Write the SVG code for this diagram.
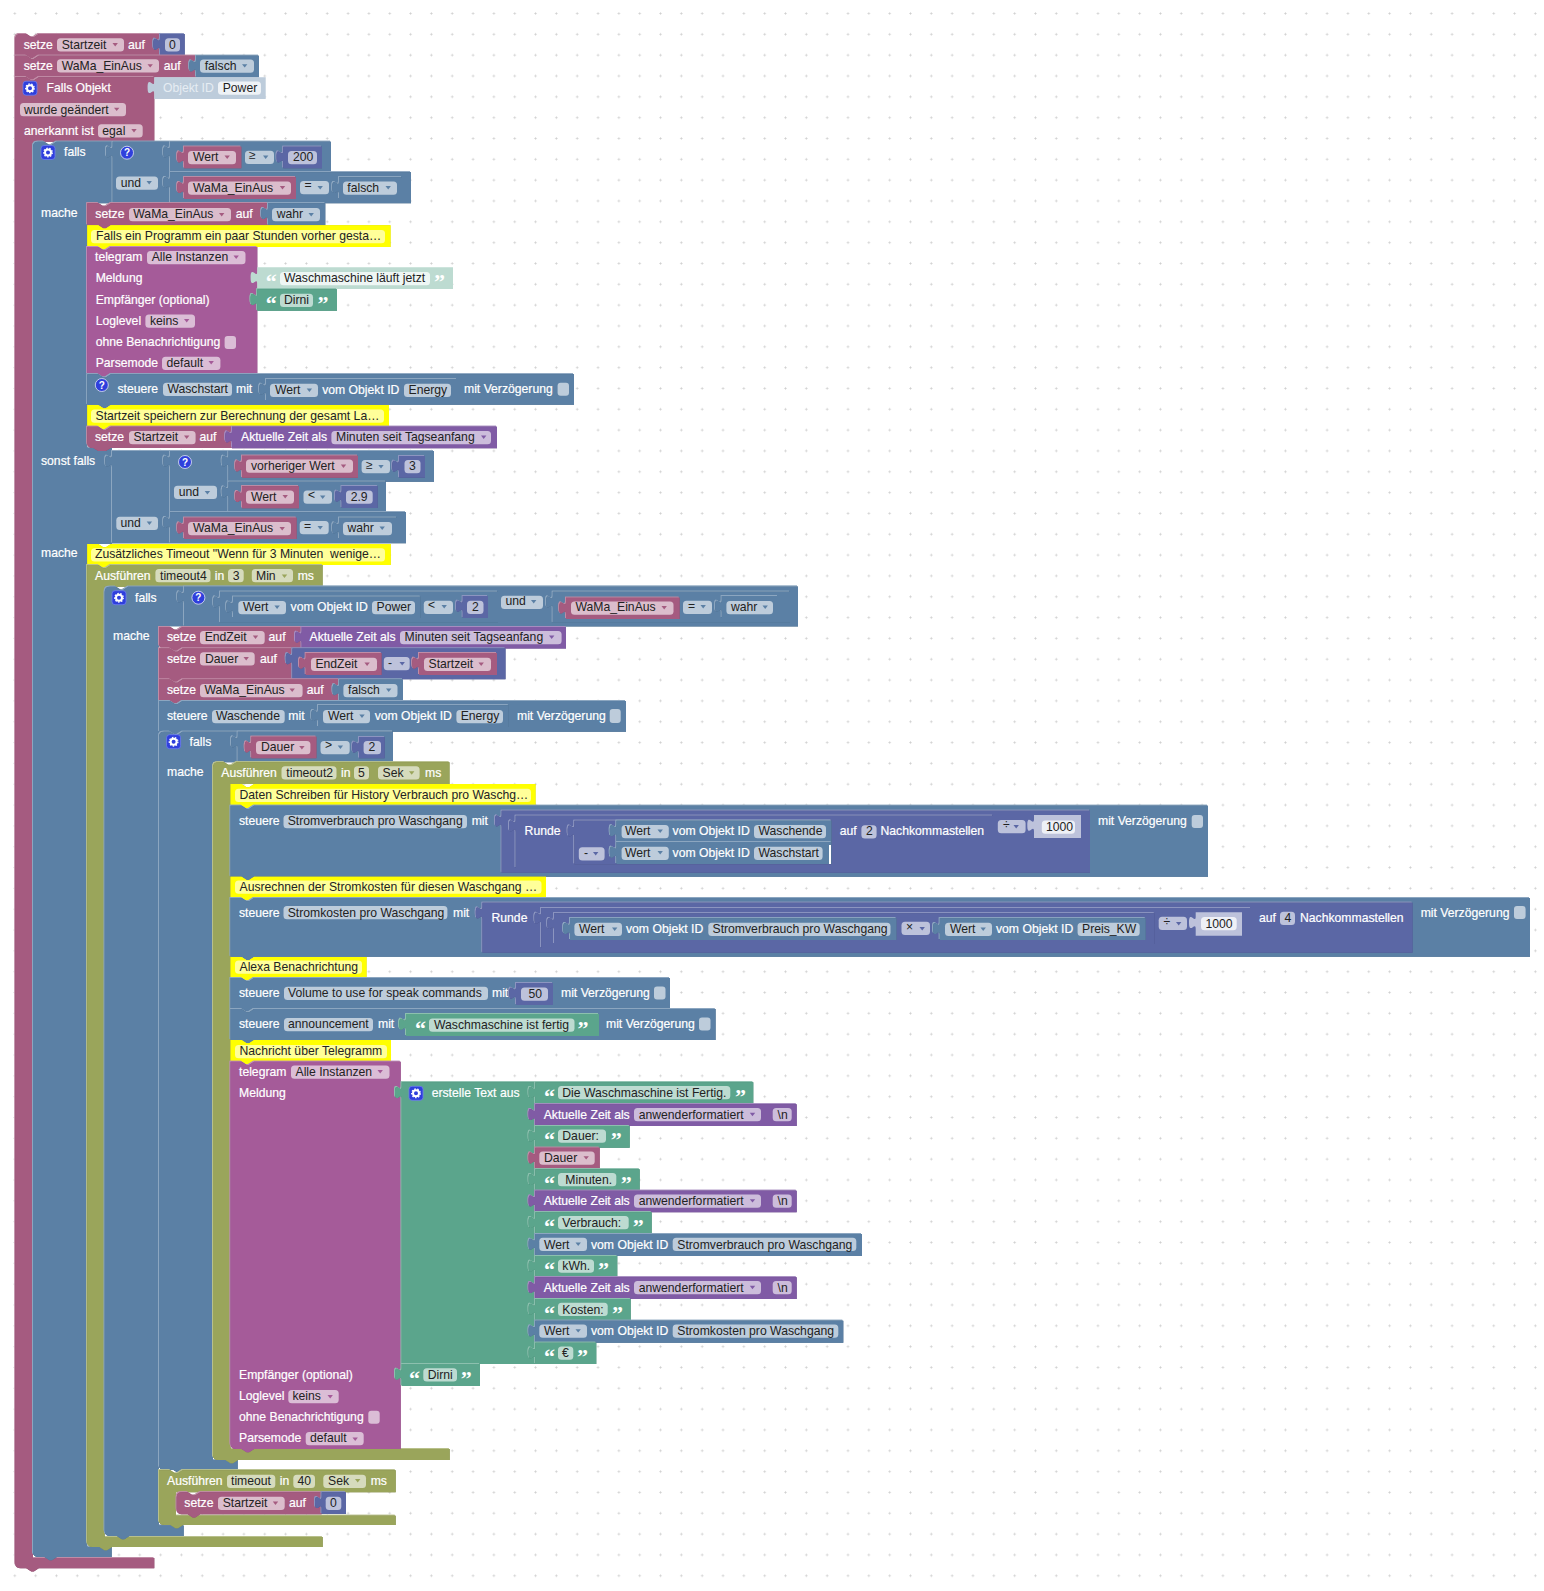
<svg xmlns="http://www.w3.org/2000/svg" width="1544" height="1591" viewBox="0 0 1544 1591">
<style>
text{font:12.2px "Liberation Sans",Arial,sans-serif;fill:#fff;stroke:#fff;stroke-width:.2px;white-space:pre}
text.d{fill:#222;stroke:none}
text.s{fill:#e6edf3;stroke:none}
text.q{font:bold 22px "Liberation Serif","Times New Roman",serif;fill:#fff;stroke:none;transform:translateY(.5px)}
text.h{font:bold 10px "Liberation Sans",Arial,sans-serif;fill:#fff;stroke:none;text-anchor:middle}
.f{height:13.3px;rx:3.5px;fill:#fff;fill-opacity:.6}
.w2{height:13.3px;rx:3.5px;fill:#fff;fill-opacity:.75}
.c{rx:3px;fill:#fff;fill-opacity:.6}
.P{fill:#a55b80;filter:drop-shadow(.8px .8px 0 #844966) drop-shadow(-.6px -.6px 0 #c08ca6)}
.B{fill:#5b80a5;filter:drop-shadow(.8px .8px 0 #496684) drop-shadow(-.6px -.6px 0 #8ca6c0)}
.M{fill:#5b67a5;filter:drop-shadow(.8px .8px 0 #495284) drop-shadow(-.6px -.6px 0 #8c95c0)}
.G{fill:#5ba58c;filter:drop-shadow(.8px .8px 0 #498470) drop-shadow(-.6px -.6px 0 #8cc0ae)}
.T{fill:#a55b99;filter:drop-shadow(.8px .8px 0 #84497a) drop-shadow(-.6px -.6px 0 #c08cb8)}
.O{fill:#9aa55b;filter:drop-shadow(.8px .8px 0 #7b8449) drop-shadow(-.6px -.6px 0 #b8c08c)}
.Z{fill:#805ba5;filter:drop-shadow(.8px .8px 0 #664984) drop-shadow(-.6px -.6px 0 #a68cc0)}
.Y{fill:#ff0;filter:drop-shadow(.8px .8px 0 #cc0)}
.SB{fill:#bdccdb}.SG{fill:#bddbd1}.SM{fill:#bdc2db}
.ap{fill:#a55b80}.ab{fill:#5b80a5}.am{fill:#5b67a5}.at{fill:#a55b99}.ao{fill:#9aa55b}.az{fill:#805ba5}
</style>
<defs>
<pattern id="grid" x="4.4" y="3.1" width="20.83" height="20.83" patternUnits="userSpaceOnUse"><path d="M10.41 9.2v2.4M9.2 10.41h2.4" stroke="#ccc" stroke-width=".8" fill="none"/></pattern>
<path id="a" d="M0 0h5.4l-2.7 3.4z"/>
<g id="gear"><rect x="-7" y="-7" width="14" height="14" rx="3" fill="#2f3fdc" stroke="#6f7df0" stroke-width=".8"/><circle r="3" fill="none" stroke="#fff" stroke-width="2"/><circle r="4.3" fill="none" stroke="#fff" stroke-width="1.3" stroke-dasharray="1.5 1.5"/></g>
<circle id="qm" r="6.5" fill="#2f3fdc" stroke="#dfe3f7" stroke-width=".8"/>
</defs>
<rect width="1544" height="1591" fill="#fff"/>
<rect width="1544" height="1591" fill="url(#grid)"/>
<g id="connectors"/>

<g id="setStart"><path class="P" d="M15.3 39.3q0-5.3 5.3-5.3h5.7l5 3.3h2.5l5-3.3H160V55.7H38.8l-5 3.3h-2.5l-5-3.3H15.3z"/><text x="23.7" y="49">setze</text><rect class="f" x="57" y="38.3" width="67"/><text class="d" x="61.7" y="49">Startzeit</text><use class="ap" href="#a" x="112.5" y="43"/><text x="128" y="49">auf</text></g>
<g id="num0"><path class="M" d="M160 34H184.7V55.6H160V50.5c0-8.3-6.7 6.7-6.7-6.2s6.7 2.1 6.7-6.2z"/><rect class="f" x="165" y="38.3" width="15"/><text class="d" x="169" y="49">0</text></g>

<g id="setWaMa"><path class="P" d="M15.3 55.7h11l5 3.3h2.5l5-3.3H196V77.3H38.8l-5 3.3h-2.5l-5-3.3H15.3z"/><text x="23.7" y="70">setze</text><rect class="f" x="57" y="59.3" width="102"/><text class="d" x="61.7" y="70">WaMa_EinAus</text><use class="ap" href="#a" x="147.5" y="64.2"/><text x="163.7" y="70">auf</text></g>
<g id="falsch0"><path class="B" d="M196 55.7H259V77.3H196V72.2c0-8.3-6.7 6.7-6.7-6.2s6.7 2.1 6.7-6.2z"/><rect class="f" x="200" y="59.5" width="54"/><text class="d" x="204.7" y="70">falsch</text><use class="ab" href="#a" x="242" y="64.2"/></g>

<g id="event"><path class="P" d="M15.3 77.3h11l5 3.3h2.5l5-3.3H154.3V141.7H33V1558H154.3V1568.3H38.8l-5 3.3h-2.5l-5-3.3H20.6q-5.3 0-5.3-5.3z"/><use href="#gear" x="30" y="88.2"/><text x="46.5" y="92">Falls Objekt</text><rect class="f" x="20" y="103" width="106"/><text class="d" x="24" y="114">wurde geändert</text><use class="ap" href="#a" x="114" y="107.7"/><text x="24" y="135">anerkannt ist</text><rect class="f" x="98" y="124.3" width="44.7"/><text class="d" x="102.3" y="135">egal</text><use class="ap" href="#a" x="131.3" y="129"/></g>
<g id="objId"><path class="SB" d="M154.3 77.3H265.7V99H154.3V93.8c0-8.3-6.7 6.7-6.7-6.2s6.7 2.1 6.7-6.2z"/><text class="s" x="163" y="92">Objekt ID</text><rect class="w2" x="218" y="81.5" width="43"/><text class="d" x="222.7" y="92">Power</text></g>

<g id="if1"><path class="B" d="M33 147q0-5.3 5.3-5.3h5.7l5 3.3h2.5l5-3.3H112.7V203.3H87.3V448H112V544H87.3V1547H111.7V1557H57l-5 3.3h-2.5l-5-3.3H38.3q-5.3 0-5.3-5.3z"/><use href="#gear" x="48" y="152.5"/><text x="64" y="156">falls</text><text x="41" y="217">mache</text><text x="41" y="465">sonst falls</text><text x="41" y="557">mache</text></g>
<g id="and1"><path class="B" d="M112.7 141.7H170V203.3H112.7V158.2c0-8.3-6.7 6.7-6.7-6.2s6.7 2.1 6.7-6.2z"/><use href="#qm" x="127" y="152.7"/><text class="h" x="127" y="156.3">?</text><rect class="f" x="116" y="176.5" width="42"/><text class="d" x="120.7" y="186.5">und</text><use class="ab" href="#a" x="146.5" y="181"/></g>
<g id="cmp1"><path class="B" d="M170 141.7H331V172.3H170V158.2c0-8.3-6.7 6.7-6.7-6.2s6.7 2.1 6.7-6.2z"/><rect class="f" x="245" y="150.7" width="29"/><text class="d" x="249" y="158.5">≥</text><use class="ab" href="#a" x="263" y="155.5"/></g>
<g id="v1"><path class="P" d="M184 146.7H241.3V168.3H184V163.2c0-8.3-6.7 6.7-6.7-6.2s6.7 2.1 6.7-6.2z"/><rect class="f" x="188" y="151" width="48"/><text class="d" x="193" y="161">Wert</text><use class="ap" href="#a" x="224.5" y="155.5"/></g>
<g id="v2"><path class="M" d="M283.3 146.7H322V168.3H283.3V163.2c0-8.3-6.7 6.7-6.7-6.2s6.7 2.1 6.7-6.2z"/><rect class="f" x="288" y="151" width="29"/><text class="d" x="293" y="161">200</text></g>
<g id="cmp2"><path class="B" d="M170 172.3H411V203.3H170V188.8c0-8.3-6.7 6.7-6.7-6.2s6.7 2.1 6.7-6.2z"/><rect class="f" x="300" y="181" width="29"/><text class="d" x="304.5" y="189">=</text><use class="ab" href="#a" x="317.5" y="186"/></g>
<g id="v3"><path class="P" d="M184 177.3H296V199H184V193.8c0-8.3-6.7 6.7-6.7-6.2s6.7 2.1 6.7-6.2z"/><rect class="f" x="188" y="181.5" width="103"/><text class="d" x="193" y="191.5">WaMa_EinAus</text><use class="ap" href="#a" x="279.8" y="186"/></g>
<g id="v4"><path class="B" d="M339 177.3H402V199H339V193.8c0-8.3-6.7 6.7-6.7-6.2s6.7 2.1 6.7-6.2z"/><rect class="f" x="343" y="181.5" width="54"/><text class="d" x="347.3" y="191.5">falsch</text><use class="ab" href="#a" x="385.5" y="186"/></g>

<g id="set3"><path class="P" d="M87.3 203.3h11l5 3.3h2.5l5-3.3H268V225.3H110.8l-5 3.3h-2.5l-5-3.3H87.3z"/><text x="95.3" y="218">setze</text><rect class="f" x="129" y="208" width="102"/><text class="d" x="133.3" y="218">WaMa_EinAus</text><use class="ap" href="#a" x="219" y="213"/><text x="235.7" y="218">auf</text></g>
<g id="wahr1"><path class="B" d="M268 203.3H325.3V225.3H268V219.8c0-8.3-6.7 6.7-6.7-6.2s6.7 2.1 6.7-6.2z"/><rect class="f" x="272" y="208" width="48"/><text class="d" x="276.7" y="218">wahr</text><use class="ab" href="#a" x="308.5" y="213"/></g>
<g id="cmt1"><path class="Y" d="M87.3 225.3h11l5 3.3h2.5l5-3.3H390.5V247H110.8l-5 3.3h-2.5l-5-3.3H87.3z"/><rect class="f" x="91" y="230" width="294"/><text class="d" x="96" y="240">Falls ein Programm ein paar Stunden vorher gesta…</text></g>
<g id="tg1"><path class="T" d="M87.3 247h11l5 3.3h2.5l5-3.3H257.3V374H110.8l-5 3.3h-2.5l-5-3.3H87.3z"/><text x="95" y="261">telegram</text><rect class="f" x="147" y="251" width="98.5"/><text class="d" x="151.7" y="261">Alle Instanzen</text><use class="at" href="#a" x="233.5" y="255.5"/><text x="95.7" y="281.5">Meldung</text><text x="95.7" y="304">Empfänger (optional)</text><text x="95.7" y="325">Loglevel</text><rect class="f" x="145.4" y="314.5" width="49.6"/><text class="d" x="150" y="325">keins</text><use class="at" href="#a" x="184" y="319"/><text x="95.7" y="346">ohne Benachrichtigung</text><rect class="c" x="224.6" y="336" width="11.4" height="13"/><text x="95.7" y="367">Parsemode</text><rect class="f" x="162" y="356.7" width="58.4"/><text class="d" x="166.5" y="367">default</text><use class="at" href="#a" x="208.5" y="361"/></g>
<g id="txt1"><path class="SG" d="M257.3 267.3H453V289H257.3V283.8c0-8.3-6.7 6.7-6.7-6.2s6.7 2.1 6.7-6.2z"/><text class="q" x="265.7" y="288.5">“</text><rect class="w2" x="280" y="272" width="150"/><text class="d" x="284" y="282">Waschmaschine läuft jetzt</text><text class="q" x="434" y="288.5">”</text></g>
<g id="txt2"><path class="G" d="M257.3 289.3H337V310.7H257.3V305.8c0-8.3-6.7 6.7-6.7-6.2s6.7 2.1 6.7-6.2z"/><text class="q" x="265.7" y="310">“</text><rect class="f" x="280" y="293.7" width="33"/><text class="d" x="284" y="304">Dirni</text><text class="q" x="317.5" y="310">”</text></g>
<g id="ctl1"><path class="B" d="M87.3 374.3h11l5 3.3h2.5l5-3.3H574V404.7H110.8l-5 3.3h-2.5l-5-3.3H87.3z"/><use href="#qm" x="101.8" y="385"/><text class="h" x="101.8" y="388.6">?</text><text x="117.5" y="393">steuere</text><rect class="f" x="163" y="382.7" width="69"/><text class="d" x="167.4" y="393">Waschstart</text><text x="236" y="393">mit</text><text x="464" y="393">mit Verzögerung</text><rect class="c" x="557.6" y="382.7" width="11.4" height="13"/></g>
<g id="st1"><path class="B" d="M266 379H457V401H266V395.5c0-8.3-6.7 6.7-6.7-6.2s6.7 2.1 6.7-6.2z"/><rect class="f" x="270" y="383.7" width="48"/><text class="d" x="275" y="394">Wert</text><use class="ab" href="#a" x="306.7" y="388.5"/><text x="322.2" y="394">vom Objekt ID</text><rect class="f" x="404" y="383.7" width="47"/><text class="d" x="408.5" y="394">Energy</text></g>
<g id="cmt2"><path class="Y" d="M87.3 405h11l5 3.3h2.5l5-3.3H389V426.7H110.8l-5 3.3h-2.5l-5-3.3H87.3z"/><rect class="f" x="91" y="409.5" width="293"/><text class="d" x="95.5" y="420">Startzeit speichern zur Berechnung der gesamt La…</text></g>
<g id="set4"><path class="P" d="M87.3 426.7h11l5 3.3h2.5l5-3.3H232V448H110.8l-5 3H98.3l-5-3H92.6q-5.3 0-5.3-5.3z"/><text x="95" y="441">setze</text><rect class="f" x="129" y="431" width="66.6"/><text class="d" x="133.5" y="441">Startzeit</text><use class="ap" href="#a" x="184" y="435.5"/><text x="199.4" y="441">auf</text></g>
<g id="time1"><path class="Z" d="M232 426.7H497V448.3H232V443.2c0-8.3-6.7 6.7-6.7-6.2s6.7 2.1 6.7-6.2z"/><text x="241" y="441">Aktuelle Zeit als</text><rect class="f" x="331.4" y="431" width="159.6"/><text class="d" x="336" y="441">Minuten seit Tagseanfang</text><use class="az" href="#a" x="481" y="435.5"/></g>

<g id="and2"><path class="B" d="M112 451H170V543.3H112V467.5c0-8.3-6.7 6.7-6.7-6.2s6.7 2.1 6.7-6.2z"/><rect class="f" x="116.3" y="516.7" width="41.7"/><text class="d" x="120.5" y="527">und</text><use class="ab" href="#a" x="146.7" y="521.5"/></g>
<g id="and3"><path class="B" d="M170 451H228.5V512.3H170V467.5c0-8.3-6.7 6.7-6.7-6.2s6.7 2.1 6.7-6.2z"/><use href="#qm" x="185" y="462"/><text class="h" x="185" y="465.6">?</text><rect class="f" x="174" y="485.7" width="43"/><text class="d" x="178.7" y="496">und</text><use class="ab" href="#a" x="204.7" y="491"/></g>
<g id="cmp3"><path class="B" d="M228.5 451H434V481.7H228.5V467.5c0-8.3-6.7 6.7-6.7-6.2s6.7 2.1 6.7-6.2z"/><rect class="f" x="361.6" y="460" width="28.4"/><text class="d" x="366" y="468.5">≥</text><use class="ab" href="#a" x="378.3" y="465"/></g>
<g id="v5"><path class="P" d="M242 455.7H358V477.7H242V472.2c0-8.3-6.7 6.7-6.7-6.2s6.7 2.1 6.7-6.2z"/><rect class="f" x="246" y="459.5" width="107"/><text class="d" x="251" y="469.5">vorheriger Wert</text><use class="ap" href="#a" x="340.8" y="464.5"/></g>
<g id="v6"><path class="M" d="M399 456H425V477.7H399V472.5c0-8.3-6.7 6.7-6.7-6.2s6.7 2.1 6.7-6.2z"/><rect class="f" x="404.5" y="460" width="16"/><text class="d" x="409" y="470">3</text></g>
<g id="cmp4"><path class="B" d="M228.5 481.7H386V512.3H228.5V498.2c0-8.3-6.7 6.7-6.7-6.2s6.7 2.1 6.7-6.2z"/><rect class="f" x="303.5" y="490.5" width="28.5"/><text class="d" x="308" y="498.5">&lt;</text><use class="ab" href="#a" x="320" y="495.5"/></g>
<g id="v7"><path class="P" d="M242 486.3H299V508.3H242V502.8c0-8.3-6.7 6.7-6.7-6.2s6.7 2.1 6.7-6.2z"/><rect class="f" x="246" y="490.5" width="48"/><text class="d" x="251" y="500.5">Wert</text><use class="ap" href="#a" x="282.5" y="495"/></g>
<g id="v8"><path class="M" d="M341.7 486H377.7V508H341.7V502.5c0-8.3-6.7 6.7-6.7-6.2s6.7 2.1 6.7-6.2z"/><rect class="f" x="346" y="490.5" width="26.7"/><text class="d" x="350.7" y="501">2.9</text></g>
<g id="cmp5"><path class="B" d="M170 512.3H406V543.3H170V528.8c0-8.3-6.7 6.7-6.7-6.2s6.7 2.1 6.7-6.2z"/><rect class="f" x="299.7" y="521" width="29"/><text class="d" x="304" y="530">=</text><use class="ab" href="#a" x="317.5" y="526"/></g>
<g id="v9"><path class="P" d="M184 517.7H296.6V539H184V534.2c0-8.3-6.7 6.7-6.7-6.2s6.7 2.1 6.7-6.2z"/><rect class="f" x="188" y="522" width="103"/><text class="d" x="193" y="532">WaMa_EinAus</text><use class="ap" href="#a" x="279.5" y="527"/></g>
<g id="v10"><path class="B" d="M339 517.7H397V539H339V534.2c0-8.3-6.7 6.7-6.7-6.2s6.7 2.1 6.7-6.2z"/><rect class="f" x="343" y="522" width="49"/><text class="d" x="347.5" y="532">wahr</text><use class="ab" href="#a" x="379.5" y="526.5"/></g>

<g id="cmt3"><path class="Y" d="M87.3 544h11l5 3.3h2.5l5-3.3H390.7V565H110.8l-5 3.3h-2.5l-5-3.3H87.3z"/><rect class="f" x="91" y="548.2" width="294"/><text class="d" x="95" y="558.2">Zusätzliches Timeout "Wenn für 3 Minuten  wenige…</text></g>
<g id="timeout4"><path class="O" d="M87.3 565h11l5 3.3h2.5l5-3.3H322.6V586.7H104.7V1537H322.7V1547H112l-5 3.3h-2.5l-5-3.3H92.6q-5.3 0-5.3-5.3z"/><text x="95" y="580">Ausführen</text><rect class="f" x="155.4" y="569" width="55.1"/><text class="d" x="160" y="580">timeout4</text><text x="214.7" y="580">in</text><rect class="f" x="228" y="569" width="15.7"/><text class="d" x="232.7" y="580">3</text><rect class="f" x="251.8" y="569" width="41.2"/><text class="d" x="256" y="580">Min</text><use class="ao" href="#a" x="281.8" y="574.5"/><text x="297.7" y="580">ms</text></g>

<g id="if2"><path class="B" d="M104.7 592q0-5.3 5.3-5.3h5.7l5 3.3h2.5l5-3.3H798V626.3H159V1525.5H183.7V1536H129.4l-5 3.3h-2.5l-5-3.3H110q-5.3 0-5.3-5.3z"/><use href="#gear" x="119" y="597.7"/><text x="135" y="601.5">falls</text><text x="113" y="640">mache</text></g>
<g id="and4"><path class="B" d="M184 586.7H798V626.3H184V603.2c0-8.3-6.7 6.7-6.7-6.2s6.7 2.1 6.7-6.2z"/><use href="#qm" x="198.4" y="597.7"/><text class="h" x="198.4" y="601.3">?</text><rect class="f" x="501" y="595.7" width="42"/><text class="d" x="505.5" y="605">und</text><use class="ab" href="#a" x="531" y="600"/></g>
<g id="cmp6"><path class="B" d="M220 591.7H498V622.7H220V608.2c0-8.3-6.7 6.7-6.7-6.2s6.7 2.1 6.7-6.2z"/><rect class="f" x="423.8" y="600.7" width="29.2"/><text class="d" x="428" y="609">&lt;</text><use class="ab" href="#a" x="441.5" y="605"/></g>
<g id="st2"><path class="B" d="M233 596.7H420.6V618H233V613.2c0-8.3-6.7 6.7-6.7-6.2s6.7 2.1 6.7-6.2z"/><rect class="f" x="238.3" y="601" width="47.7"/><text class="d" x="243" y="610.5">Wert</text><use class="ab" href="#a" x="274.4" y="605.5"/><text x="290.6" y="610.5">vom Objekt ID</text><rect class="f" x="372" y="601" width="43"/><text class="d" x="376.5" y="610.5">Power</text></g>
<g id="n2a"><path class="M" d="M462.8 596H488V618H462.8V612.5c0-8.3-6.7 6.7-6.7-6.2s6.7 2.1 6.7-6.2z"/><rect class="f" x="467" y="600.7" width="16.5"/><text class="d" x="472" y="611">2</text></g>
<g id="cmp7"><path class="B" d="M552.8 591.7H790V622.7H552.8V608.2c0-8.3-6.7 6.7-6.7-6.2s6.7 2.1 6.7-6.2z"/><rect class="f" x="683" y="600.7" width="29"/><text class="d" x="688" y="610">=</text><use class="ab" href="#a" x="700.5" y="605"/></g>
<g id="v11"><path class="P" d="M566 597.7H679.6V619H566V614.2c0-8.3-6.7 6.7-6.7-6.2s6.7 2.1 6.7-6.2z"/><rect class="f" x="571" y="601.5" width="102.5"/><text class="d" x="575.5" y="611">WaMa_EinAus</text><use class="ap" href="#a" x="661.5" y="606"/></g>
<g id="v12"><path class="B" d="M721.8 596H778V618H721.8V612.5c0-8.3-6.7 6.7-6.7-6.2s6.7 2.1 6.7-6.2z"/><rect class="f" x="726.4" y="601" width="46.6"/><text class="d" x="731" y="611">wahr</text><use class="ab" href="#a" x="762.5" y="605.5"/></g>

<g id="set5"><path class="P" d="M159 627h11l5 3.3h2.5l5-3.3H301.7V648.5H182.5l-5 3.3H175l-5-3.3H164.3q-5.3 0-5.3-5.3z"/><text x="167" y="641">setze</text><rect class="f" x="200" y="631" width="64.7"/><text class="d" x="204.7" y="641">EndZeit</text><use class="ap" href="#a" x="252.8" y="635.5"/><text x="268.6" y="641">auf</text></g>
<g id="time2"><path class="Z" d="M301.7 627H566V648.5H301.7V643.5c0-8.3-6.7 6.7-6.7-6.2s6.7 2.1 6.7-6.2z"/><text x="309.5" y="641">Aktuelle Zeit als</text><rect class="f" x="400" y="631" width="161.6"/><text class="d" x="404.5" y="641">Minuten seit Tagseanfang</text><use class="az" href="#a" x="549" y="635.5"/></g>
<g id="set6"><path class="P" d="M159 648.5h11l5 3.3h2.5l5-3.3H292.5V679.5H182.5l-5 3.3H175l-5-3.3H159z"/><text x="167" y="662.5">setze</text><rect class="f" x="200" y="652.2" width="54.7"/><text class="d" x="205" y="662.5">Dauer</text><use class="ap" href="#a" x="243.5" y="657"/><text x="260" y="662.5">auf</text></g>
<g id="minus"><path class="M" d="M292.5 648.5H505.5V679.3H292.5V665c0-8.3-6.7 6.7-6.7-6.2s6.7 2.1 6.7-6.2z"/><rect class="f" x="383.8" y="657" width="25.9"/><text class="d" x="388" y="667">-</text><use class="am" href="#a" x="399.5" y="662"/></g>
<g id="v13"><path class="P" d="M305.8 653H381.5V675H305.8V669.5c0-8.3-6.7 6.7-6.7-6.2s6.7 2.1 6.7-6.2z"/><rect class="f" x="311" y="657.7" width="66"/><text class="d" x="315.4" y="668">EndZeit</text><use class="ap" href="#a" x="364.4" y="662.5"/></g>
<g id="v14"><path class="P" d="M419 653H497V675H419V669.5c0-8.3-6.7 6.7-6.7-6.2s6.7 2.1 6.7-6.2z"/><rect class="f" x="424" y="657.7" width="67"/><text class="d" x="428.5" y="668">Startzeit</text><use class="ap" href="#a" x="478.5" y="662.5"/></g>
<g id="set7"><path class="P" d="M159 679.5h11l5 3.3h2.5l5-3.3H339.3V701H182.5l-5 3.3H175l-5-3.3H159z"/><text x="167" y="694">setze</text><rect class="f" x="200" y="684" width="102.6"/><text class="d" x="204.5" y="694">WaMa_EinAus</text><use class="ap" href="#a" x="289.5" y="688.5"/><text x="306.7" y="694">auf</text></g>
<g id="v15"><path class="B" d="M339.3 679.5H403V701H339.3V696c0-8.3-6.7 6.7-6.7-6.2s6.7 2.1 6.7-6.2z"/><rect class="f" x="343.4" y="684" width="54.1"/><text class="d" x="348" y="694">falsch</text><use class="ab" href="#a" x="386" y="688.5"/></g>
<g id="ctl2"><path class="B" d="M159 701h11l5 3.3h2.5l5-3.3H626V731.7H182.5l-5 3.3H175l-5-3.3H159z"/><text x="167" y="720">steuere</text><rect class="f" x="212" y="710" width="72.7"/><text class="d" x="216" y="720">Waschende</text><text x="288.3" y="720">mit</text><text x="517" y="720">mit Verzögerung</text><rect class="c" x="609.7" y="709" width="11" height="14"/></g>
<g id="st3"><path class="B" d="M318 705.3H508.7V727H318V721.8c0-8.3-6.7 6.7-6.7-6.2s6.7 2.1 6.7-6.2z"/><rect class="f" x="323" y="710" width="47"/><text class="d" x="328" y="720">Wert</text><use class="ab" href="#a" x="359.3" y="714.5"/><text x="374.7" y="720">vom Objekt ID</text><rect class="f" x="456.4" y="710" width="46.6"/><text class="d" x="460.7" y="720">Energy</text></g>

<g id="if3"><path class="B" d="M159 737q0-5.3 5.3-5.3h5.7l5 3.3h2.5l5-3.3H393V762.3H213V1460H237.7V1470H186l-5 3.3h-2.5l-5-3.3H164.3q-5.3 0-5.3-5.3z"/><use href="#gear" x="173.6" y="741.7"/><text x="189.6" y="746">falls</text><text x="167" y="776">mache</text></g>
<g id="cmp8"><path class="B" d="M237.8 731.7H393V762.3H237.8V748.2c0-8.3-6.7 6.7-6.7-6.2s6.7 2.1 6.7-6.2z"/><rect class="f" x="320.5" y="741" width="29.2"/><text class="d" x="325" y="749">&gt;</text><use class="ab" href="#a" x="337.7" y="745.5"/></g>
<g id="v16"><path class="P" d="M251.5 736.7H316.4V758.3H251.5V753.2c0-8.3-6.7 6.7-6.7-6.2s6.7 2.1 6.7-6.2z"/><rect class="f" x="256" y="741" width="54.4"/><text class="d" x="261" y="751">Dauer</text><use class="ap" href="#a" x="299.2" y="746"/></g>
<g id="v17"><path class="M" d="M359 737H384.7V758.3H359V753.5c0-8.3-6.7 6.7-6.7-6.2s6.7 2.1 6.7-6.2z"/><rect class="f" x="363.6" y="741" width="17.4"/><text class="d" x="368.5" y="751">2</text></g>

<g id="timeout2"><path class="O" d="M213 767.6q0-5.3 5.3-5.3h5.7l5 3.3h2.5l5-3.3H449.5V784H230.6V1449H449.7V1460H238l-5 3.3h-2.5l-5-3.3H218.3q-5.3 0-5.3-5.3z"/><text x="221.3" y="776.5">Ausführen</text><rect class="f" x="281.5" y="766.3" width="55"/><text class="d" x="286.3" y="776.5">timeout2</text><text x="341" y="776.5">in</text><rect class="f" x="354" y="766.3" width="15"/><text class="d" x="358" y="776.5">5</text><rect class="f" x="378" y="766.3" width="41.6"/><text class="d" x="382.5" y="776.5">Sek</text><use class="ao" href="#a" x="409" y="771.3"/><text x="425" y="776.5">ms</text></g>
<g id="cmt4"><path class="Y" d="M230.6 784h11l5 3.3h2.5l5-3.3H535.5V805.7H254.1l-5 3.3h-2.5l-5-3.3H230.6z"/><rect class="f" x="235" y="788.7" width="296"/><text class="d" x="239.5" y="799.3">Daten Schreiben für History Verbrauch pro Waschg…</text></g>
<g id="ctl3"><path class="B" d="M230.6 805.7h11l5 3.3h2.5l5-3.3H1208V876.7H254.1l-5 3.3h-2.5l-5-3.3H230.6z"/><text x="239" y="825.4">steuere</text><rect class="f" x="283.5" y="815" width="183.5"/><text class="d" x="287.7" y="825.4">Stromverbrauch pro Waschgang</text><text x="471.7" y="825.4">mit</text><text x="1098" y="825.4">mit Verzögerung</text><rect class="c" x="1191.7" y="815" width="11.3" height="13"/></g>
<g id="div1"><path class="M" d="M501.7 810.7H1090V872.7H501.7V827.2c0-8.3-6.7 6.7-6.7-6.2s6.7 2.1 6.7-6.2z"/><rect class="f" x="997.8" y="820" width="27.8"/><text class="d" x="1003" y="829">÷</text><use class="am" href="#a" x="1013.5" y="825"/></g>
<g id="round1"><path class="M" d="M515.7 815.7H993V868H515.7V832.2c0-8.3-6.7 6.7-6.7-6.2s6.7 2.1 6.7-6.2z"/><text x="524.6" y="835">Runde</text><text x="839.7" y="835">auf</text><rect class="f" x="861.4" y="825.3" width="15.2"/><text class="d" x="866" y="835">2</text><text x="880.5" y="835">Nachkommastellen</text></g>
<g id="min1"><path class="M" d="M574.4 820.7H831.4V864.3H574.4V837.2c0-8.3-6.7 6.7-6.7-6.2s6.7 2.1 6.7-6.2z"/><rect class="f" x="578.8" y="847.3" width="25.8"/><text class="d" x="584" y="856.5">-</text><use class="am" href="#a" x="593" y="852"/></g>
<g id="st4"><path class="B" d="M616.5 820.7H831.4V842H616.5V837c0-8.3-6.7 6.7-6.7-6.2s6.7 2.1 6.7-6.2z"/><rect class="f" x="621.6" y="825" width="47.2"/><text class="d" x="625" y="835">Wert</text><use class="ab" href="#a" x="657.5" y="829.5"/><text x="672.6" y="835">vom Objekt ID</text><rect class="f" x="754" y="825" width="72"/><text class="d" x="758.5" y="835">Waschende</text></g>
<g id="st5"><path class="B" d="M616.5 842H831.4V864H616.5V858.5c0-8.3-6.7 6.7-6.7-6.2s6.7 2.1 6.7-6.2z"/><rect class="f" x="621.6" y="846.7" width="47.2"/><text class="d" x="625" y="856.7">Wert</text><use class="ab" href="#a" x="657.5" y="851"/><text x="672.6" y="856.7">vom Objekt ID</text><rect class="f" x="754" y="846.7" width="68.6"/><text class="d" x="758.5" y="856.7">Waschstart</text><rect x="829" y="845" width="2" height="19" fill="#fff"/></g>
<g id="n1000a"><path class="SM" d="M1034 815H1081V838H1034V831.5c0-8.3-6.7 6.7-6.7-6.2s6.7 2.1 6.7-6.2z"/><rect class="w2" x="1041.8" y="820.5" width="33.2"/><text class="d" x="1046" y="831">1000</text></g>

<g id="cmt5"><path class="Y" d="M230.6 876.7h11l5 3.3h2.5l5-3.3H546V898H254.1l-5 3.3h-2.5l-5-3.3H230.6z"/><rect class="f" x="235" y="880.5" width="306.5"/><text class="d" x="239.5" y="890.5">Ausrechnen der Stromkosten für diesen Waschgang …</text></g>
<g id="ctl4"><path class="B" d="M230.6 898h11l5 3.3h2.5l5-3.3H1530V956.7H254.1l-5 3.3h-2.5l-5-3.3H230.6z"/><text x="239" y="916.5">steuere</text><rect class="f" x="283.5" y="906" width="163.9"/><text class="d" x="287.7" y="916.5">Stromkosten pro Waschgang</text><text x="453" y="916.5">mit</text><text x="1420.7" y="916.5">mit Verzögerung</text><rect class="c" x="1514" y="906" width="11.6" height="13"/></g>
<g id="round2"><path class="M" d="M482.5 902.7H1412.5V952.7H482.5V919.2c0-8.3-6.7 6.7-6.7-6.2s6.7 2.1 6.7-6.2z"/><text x="491.5" y="922">Runde</text><text x="1259" y="922">auf</text><rect class="f" x="1280" y="911.7" width="15"/><text class="d" x="1284.5" y="922">4</text><text x="1300" y="922">Nachkommastellen</text></g>
<g id="div2"><path class="M" d="M541.2 908H1251V948H541.2V924.5c0-8.3-6.7 6.7-6.7-6.2s6.7 2.1 6.7-6.2z"/><rect class="f" x="1158.7" y="916.7" width="28.3"/><text class="d" x="1163.5" y="926">÷</text><use class="am" href="#a" x="1176" y="922"/></g>
<g id="mul"><path class="M" d="M554 913.3H1154.6V944H554V929.8c0-8.3-6.7 6.7-6.7-6.2s6.7 2.1 6.7-6.2z"/><rect class="f" x="901.5" y="921.7" width="28.5"/><text class="d" x="906" y="930.5">×</text><use class="am" href="#a" x="919.5" y="927"/></g>
<g id="st6"><path class="B" d="M570 918.3H896.4V940H570V934.8c0-8.3-6.7 6.7-6.7-6.2s6.7 2.1 6.7-6.2z"/><rect class="f" x="574.4" y="922.7" width="47.6"/><text class="d" x="579" y="933">Wert</text><use class="ab" href="#a" x="612" y="927.5"/><text x="626" y="933">vom Objekt ID</text><rect class="f" x="708.3" y="922.7" width="182.2"/><text class="d" x="712.5" y="933">Stromverbrauch pro Waschgang</text></g>
<g id="st7"><path class="B" d="M939.8 918.3H1145.6V940H939.8V934.8c0-8.3-6.7 6.7-6.7-6.2s6.7 2.1 6.7-6.2z"/><rect class="f" x="945" y="922.7" width="47"/><text class="d" x="950" y="933">Wert</text><use class="ab" href="#a" x="980.5" y="927.5"/><text x="996" y="933">vom Objekt ID</text><rect class="f" x="1077.6" y="922.7" width="62.1"/><text class="d" x="1082" y="933">Preis_KW</text></g>
<g id="n1000b"><path class="SM" d="M1195.7 912.3H1242V935.7H1195.7V928.8c0-8.3-6.7 6.7-6.7-6.2s6.7 2.1 6.7-6.2z"/><rect class="w2" x="1201" y="917" width="35.7"/><text class="d" x="1205.5" y="928">1000</text></g>

<g id="cmt6"><path class="Y" d="M230.6 957h11l5 3.3h2.5l5-3.3H366.5V978H254.1l-5 3.3h-2.5l-5-3.3H230.6z"/><rect class="f" x="235" y="960.5" width="127"/><text class="d" x="239.5" y="971">Alexa Benachrichtung</text></g>
<g id="ctl5"><path class="B" d="M230.6 978h11l5 3.3h2.5l5-3.3H670V1009H254.1l-5 3.3h-2.5l-5-3.3H230.6z"/><text x="239" y="997">steuere</text><rect class="f" x="284" y="986.7" width="204"/><text class="d" x="288" y="997">Volume to use for speak commands</text><text x="492" y="997">mit</text><text x="561" y="997">mit Verzögerung</text><rect class="c" x="654" y="986.5" width="11.5" height="13"/></g>
<g id="n50"><path class="M" d="M516 983H553V1005H516V999.5c0-8.3-6.7 6.7-6.7-6.2s6.7 2.1 6.7-6.2z"/><rect class="f" x="521" y="987.5" width="27"/><text class="d" x="528.5" y="998">50</text></g>
<g id="ctl6"><path class="B" d="M230.6 1009h11l5 3.3h2.5l5-3.3H715.6V1040H254.1l-5 3.3h-2.5l-5-3.3H230.6z"/><text x="239" y="1028">steuere</text><rect class="f" x="284" y="1018" width="89"/><text class="d" x="288" y="1028">announcement</text><text x="378" y="1028">mit</text><text x="606" y="1028">mit Verzögerung</text><rect class="c" x="699" y="1017.5" width="11.5" height="13"/></g>
<g id="txt3"><path class="G" d="M406 1014H599V1036H406V1030.5c0-8.3-6.7 6.7-6.7-6.2s6.7 2.1 6.7-6.2z"/><text class="q" x="415" y="1035.5">“</text><rect class="f" x="429" y="1018.5" width="145.5"/><text class="d" x="434" y="1029">Waschmaschine ist fertig</text><text class="q" x="577.5" y="1035.5">”</text></g>
<g id="cmt7"><path class="Y" d="M230.6 1040h11l5 3.3h2.5l5-3.3H391V1061.7H254.1l-5 3.3h-2.5l-5-3.3H230.6z"/><rect class="f" x="235" y="1045" width="152"/><text class="d" x="239.5" y="1055">Nachricht über Telegramm</text></g>
<g id="tg2"><path class="T" d="M230.6 1061.7h11l5 3.3h2.5l5-3.3H400.7V1449H254.1l-5 3.3h-2.5l-5-3.3H235.9q-5.3 0-5.3-5.3z"/><text x="239" y="1076">telegram</text><rect class="f" x="291" y="1065.5" width="98.5"/><text class="d" x="295.5" y="1076">Alle Instanzen</text><use class="at" href="#a" x="377.5" y="1070"/><text x="239" y="1096.5">Meldung</text><text x="239" y="1379">Empfänger (optional)</text><text x="239" y="1400">Loglevel</text><rect class="f" x="288.3" y="1390" width="50.4"/><text class="d" x="292.5" y="1400">keins</text><use class="at" href="#a" x="327.5" y="1395"/><text x="239" y="1421">ohne Benachrichtigung</text><rect class="c" x="368.3" y="1410.7" width="11.4" height="13"/><text x="239" y="1442">Parsemode</text><rect class="f" x="305.7" y="1432" width="58"/><text class="d" x="310" y="1442">default</text><use class="at" href="#a" x="352.5" y="1437.5"/></g>
<g id="create"><path class="G" d="M401.7 1082.3H535.3V1364H401.7V1098.8c0-8.3-6.7 6.7-6.7-6.2s6.7 2.1 6.7-6.2z"/><use href="#gear" x="416" y="1093.3"/><text x="431.7" y="1097">erstelle Text aus</text></g>

<g id="r1"><path class="G" d="M535.3 1082.3H753.3V1104.3H535.3V1098.8c0-8.3-6.7 6.7-6.7-6.2s6.7 2.1 6.7-6.2z"/><text class="q" x="544" y="1103.3">“</text><rect class="f" x="558" y="1086" width="172.3"/><text class="d" x="562.3" y="1096.8">Die Waschmaschine ist Fertig.</text><text class="q" x="735" y="1103.3">”</text></g>
<g id="r2"><path class="Z" d="M535.3 1104.3H796.7V1126H535.3V1120.8c0-8.3-6.7 6.7-6.7-6.2s6.7 2.1 6.7-6.2z"/><text x="543.7" y="1118.8">Aktuelle Zeit als</text><rect class="f" x="634" y="1108" width="127"/><text class="d" x="638.7" y="1118.8">anwenderformatiert</text><use class="az" href="#a" x="749.8" y="1112.8"/><rect class="f" x="772.7" y="1108" width="19"/><text class="d" x="777.5" y="1118.8">\n</text></g>
<g id="r3"><path class="G" d="M535.3 1126H629.7V1147.7H535.3V1142.5c0-8.3-6.7 6.7-6.7-6.2s6.7 2.1 6.7-6.2z"/><text class="q" x="544" y="1146.5">“</text><rect class="f" x="558" y="1129.5" width="48"/><text class="d" x="562.3" y="1140">Dauer:</text><text class="q" x="610.7" y="1146.5">”</text></g>
<g id="r4"><path class="P" d="M535.3 1147.7H599.7V1169.3H535.3V1164.2c0-8.3-6.7 6.7-6.7-6.2s6.7 2.1 6.7-6.2z"/><rect class="f" x="539.3" y="1151.4" width="55.4"/><text class="d" x="544" y="1162.2">Dauer</text><use class="ap" href="#a" x="583.5" y="1156.2"/></g>
<g id="r5"><path class="G" d="M535.3 1169.3H639.7V1190.7H535.3V1185.8c0-8.3-6.7 6.7-6.7-6.2s6.7 2.1 6.7-6.2z"/><text class="q" x="544" y="1190.3">“</text><rect class="f" x="558" y="1173" width="58.3"/><text class="d" x="565.3" y="1183.8">Minuten.</text><text class="q" x="620.7" y="1190.3">”</text></g>
<g id="r6"><path class="Z" d="M535.3 1190.7H796.7V1212.3H535.3V1207.2c0-8.3-6.7 6.7-6.7-6.2s6.7 2.1 6.7-6.2z"/><text x="543.7" y="1205.2">Aktuelle Zeit als</text><rect class="f" x="634" y="1194.4" width="127"/><text class="d" x="638.7" y="1205.2">anwenderformatiert</text><use class="az" href="#a" x="749.8" y="1199.2"/><rect class="f" x="772.7" y="1194.4" width="19"/><text class="d" x="777.5" y="1205.2">\n</text></g>
<g id="r7"><path class="G" d="M535.3 1212.3H651.7V1234H535.3V1228.8c0-8.3-6.7 6.7-6.7-6.2s6.7 2.1 6.7-6.2z"/><text class="q" x="544" y="1233.3">“</text><rect class="f" x="558" y="1216" width="70.7"/><text class="d" x="562.3" y="1226.8">Verbrauch:</text><text class="q" x="632.7" y="1233.3">”</text></g>
<g id="r8"><path class="B" d="M535.3 1234H862V1256H535.3V1250.5c0-8.3-6.7 6.7-6.7-6.2s6.7 2.1 6.7-6.2z"/><rect class="f" x="539.3" y="1237.7" width="47.7"/><text class="d" x="544" y="1248.5">Wert</text><use class="ab" href="#a" x="575.5" y="1242.5"/><text x="591" y="1248.5">vom Objekt ID</text><rect class="f" x="672.7" y="1237.7" width="183.6"/><text class="d" x="677.3" y="1248.5">Stromverbrauch pro Waschgang</text></g>
<g id="r9"><path class="G" d="M535.3 1256H617.3V1277.3H535.3V1272.5c0-8.3-6.7 6.7-6.7-6.2s6.7 2.1 6.7-6.2z"/><text class="q" x="544" y="1276.5">“</text><rect class="f" x="558" y="1259.5" width="36"/><text class="d" x="562.3" y="1270">kWh.</text><text class="q" x="598" y="1276.5">”</text></g>
<g id="r10"><path class="Z" d="M535.3 1277.3H796.7V1299H535.3V1293.8c0-8.3-6.7 6.7-6.7-6.2s6.7 2.1 6.7-6.2z"/><text x="543.7" y="1291.8">Aktuelle Zeit als</text><rect class="f" x="634" y="1281" width="127"/><text class="d" x="638.7" y="1291.8">anwenderformatiert</text><use class="az" href="#a" x="749.8" y="1285.8"/><rect class="f" x="772.7" y="1281" width="19"/><text class="d" x="777.5" y="1291.8">\n</text></g>
<g id="r11"><path class="G" d="M535.3 1299H630.7V1320.7H535.3V1315.5c0-8.3-6.7 6.7-6.7-6.2s6.7 2.1 6.7-6.2z"/><text class="q" x="544" y="1320">“</text><rect class="f" x="558" y="1302.7" width="49.7"/><text class="d" x="562.3" y="1313.5">Kosten:</text><text class="q" x="612" y="1320">”</text></g>
<g id="r12"><path class="B" d="M535.3 1320.7H843.3V1342.7H535.3V1337.2c0-8.3-6.7 6.7-6.7-6.2s6.7 2.1 6.7-6.2z"/><rect class="f" x="539.3" y="1324.4" width="47.7"/><text class="d" x="544" y="1335.2">Wert</text><use class="ab" href="#a" x="575.5" y="1329.2"/><text x="591" y="1335.2">vom Objekt ID</text><rect class="f" x="672.7" y="1324.4" width="165.6"/><text class="d" x="677.3" y="1335.2">Stromkosten pro Waschgang</text></g>
<g id="r13"><path class="G" d="M535.3 1342.7H596.3V1364H535.3V1359.2c0-8.3-6.7 6.7-6.7-6.2s6.7 2.1 6.7-6.2z"/><text class="q" x="544" y="1363.7">“</text><rect class="f" x="558" y="1346.4" width="15.3"/><text class="d" x="562" y="1357.2">€</text><text class="q" x="577" y="1363.7">”</text></g>
<g id="txt4"><path class="G" d="M401.7 1364H480V1386H401.7V1380.5c0-8.3-6.7 6.7-6.7-6.2s6.7 2.1 6.7-6.2z"/><text class="q" x="409" y="1385">“</text><rect class="f" x="423.3" y="1368.3" width="33.7"/><text class="d" x="427.7" y="1379">Dirni</text><text class="q" x="460.7" y="1385">”</text></g>

<g id="timeout1"><path class="O" d="M159 1470.3h11l5 3.3h2.5l5-3.3H395.7V1492.3H176V1515.7H395.7V1525H183l-5 3.3h-2.5l-5-3.3H164.3q-5.3 0-5.3-5.3z"/><text x="167" y="1485">Ausführen</text><rect class="f" x="227" y="1474.7" width="48.3"/><text class="d" x="231" y="1485">timeout</text><text x="279.7" y="1485">in</text><rect class="f" x="293.3" y="1474.7" width="21.7"/><text class="d" x="297.5" y="1485">40</text><rect class="f" x="323.3" y="1474.7" width="42.7"/><text class="d" x="328" y="1485">Sek</text><use class="ao" href="#a" x="355" y="1479"/><text x="370.7" y="1485">ms</text></g>
<g id="set8"><path class="P" d="M176.7 1497.6q0-5.3 5.3-5.3h5.7l5 3.3h2.5l5-3.3H321.7V1514.3H200.2l-5 3.3h-2.5l-5-3.3H182q-5.3 0-5.3-5.3z"/><text x="184.3" y="1507">setze</text><rect class="f" x="218" y="1496.7" width="66.7"/><text class="d" x="222.7" y="1507">Startzeit</text><use class="ap" href="#a" x="272.8" y="1501.5"/><text x="289" y="1507">auf</text></g>
<g id="n0b"><path class="M" d="M321.7 1492.3H346V1514H321.7V1508.8c0-8.3-6.7 6.7-6.7-6.2s6.7 2.1 6.7-6.2z"/><rect class="f" x="325.7" y="1496.7" width="15.6"/><text class="d" x="330" y="1507">0</text></g>
</svg>
